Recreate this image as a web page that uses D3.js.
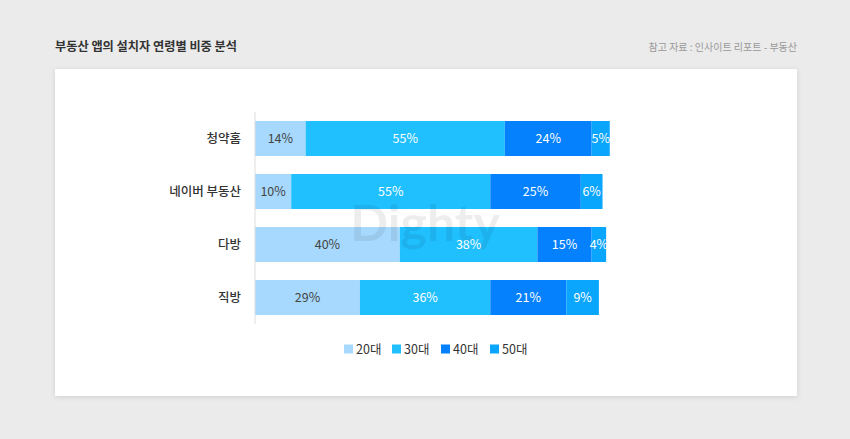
<!DOCTYPE html>
<html>
<head>
<meta charset="utf-8">
<script src="https://cdn.jsdelivr.net/npm/d3@7"></script>
<style>
  html, body { margin: 0; padding: 0; background: #ebebeb; }
  body { width: 850px; height: 439px; overflow: hidden; font-family: "Noto Sans CJK KR", "Noto Sans", sans-serif; }
</style>
</head>
<body>
<script>
// chart data
const apps = ["청약홈", "네이버 부동산", "다방", "직방"];
const ageGroups = ["20대", "30대", "40대", "50대"];
const share20 = [14, 10, 40, 29];
const share30 = [55, 55, 38, 36];
const share40 = [24, 25, 15, 21];
const share50 = [5, 6, 4, 9];
const colors = ["#a6d9fd", "#20c0ff", "#0581fd", "#0aa5fd"];

const title = "부동산 앱의 설치자 연령별 비중 분석";
const source = "참고 자료 : 인사이트 리포트 - 부동산";

const W = 850, H = 439;
const card = { x: 55, y: 69, w: 742, h: 327 };

const svg = d3.select("body").append("svg")
    .attr("width", W)
    .attr("height", H);

// drop shadow for the card
const defs = svg.append("defs");
const f = defs.append("filter").attr("id", "shadow")
    .attr("x", "-5%").attr("y", "-5%").attr("width", "110%").attr("height", "115%");
f.append("feDropShadow").attr("dx", 0).attr("dy", 1).attr("stdDeviation", 2.5)
    .attr("flood-color", "#000").attr("flood-opacity", 0.12);

svg.append("text")
    .attr("x", 55).attr("y", 50.5)
    .attr("font-size", 12.2).attr("font-weight", 700).attr("fill", "#333")
    .text(title);

svg.append("text")
    .attr("x", 797).attr("y", 51)
    .attr("text-anchor", "end")
    .attr("font-size", 10).attr("fill", "#999")
    .text(source);

svg.append("rect")
    .attr("x", card.x).attr("y", card.y)
    .attr("width", card.w).attr("height", card.h)
    .attr("fill", "#fff")
    .attr("filter", "url(#shadow)");

// stack the series
const rows = apps.map((a, i) => ({
    app: a,
    "20대": share20[i], "30대": share30[i], "40대": share40[i], "50대": share50[i]
}));
const stacked = d3.stack().keys(ageGroups)(rows);

const x = d3.scaleLinear().domain([0, 100]).range([255, 617]);
const y = d3.scaleBand().domain(apps).range([112, 324])
    .paddingInner(0.34).paddingOuter(0.17);
const color = d3.scaleOrdinal().domain(ageGroups).range(colors);

const layers = svg.selectAll("g.layer")
    .data(stacked)
    .enter().append("g")
    .attr("class", "layer")
    .attr("fill", d => color(d.key));

layers.selectAll("rect")
    .data(d => d)
    .enter().append("rect")
    .attr("x", d => x(d[0]))
    .attr("y", d => y(d.data.app))
    .attr("width", d => x(d[1]) - x(d[0]))
    .attr("height", y.bandwidth());

// watermark, drawn over the bars like the original
svg.append("text")
    .attr("x", 425).attr("y", 241)
    .attr("text-anchor", "middle")
    .attr("font-size", 50).attr("font-weight", 700)
    .attr("font-family", "Lato, Inter, 'Noto Sans', sans-serif")
    .attr("fill", "#000").attr("fill-opacity", 0.07)
    .text("Dighty");

layers.selectAll("text")
    .data(d => d.map(v => Object.assign(v, { key: d.key })))
    .enter().append("text")
    .attr("x", d => (x(d[0]) + x(d[1])) / 2)
    .attr("y", d => y(d.data.app) + y.bandwidth() / 2)
    .attr("dy", "0.36em")
    .attr("text-anchor", "middle")
    .attr("font-size", 12.5)
    .attr("fill", d => d.key === "20대" ? "#444" : "#fff")
    .text(d => (d[1] - d[0]) + "%");

// category axis
const axis = svg.append("g")
    .attr("transform", "translate(255,0)")
    .call(d3.axisLeft(y).tickSize(0).tickPadding(14));
axis.select(".domain").attr("stroke", "#ddd").attr("d", "M0,112V324");
axis.selectAll("text")
    .attr("font-size", 12.5).attr("font-weight", 500)
    .attr("fill", "#333")
    .attr("font-family", "'Noto Sans CJK KR', sans-serif");

// legend
const legendX = [344, 392, 441, 490];
const legend = svg.selectAll("g.legend")
    .data(ageGroups)
    .enter().append("g")
    .attr("class", "legend")
    .attr("transform", (d, i) => "translate(" + legendX[i] + ",349)");
legend.append("rect")
    .attr("x", 0).attr("y", -4.5)
    .attr("width", 9).attr("height", 9)
    .attr("fill", d => color(d));
legend.append("text")
    .attr("x", 12).attr("dy", "0.36em")
    .attr("font-size", 12.5).attr("fill", "#333")
    .text(d => d);
</script>
</body>
</html>
